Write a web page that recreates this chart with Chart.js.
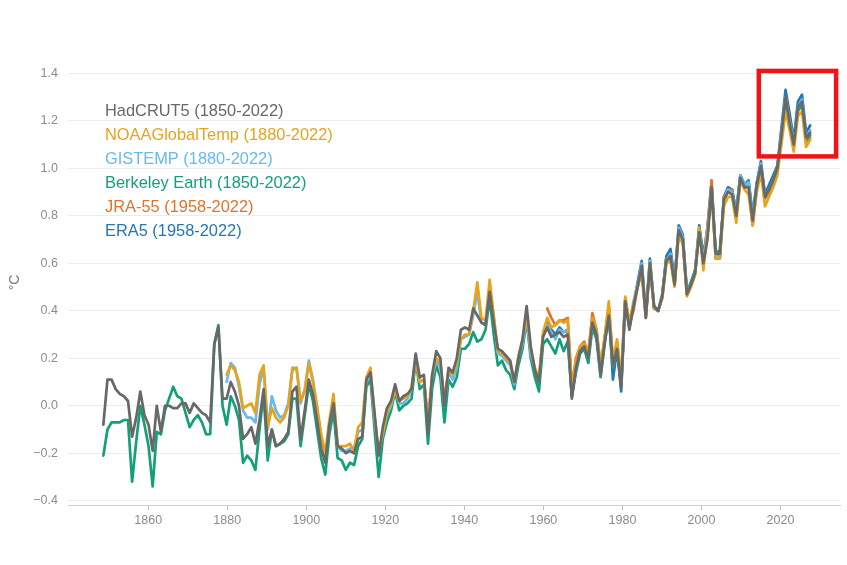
<!DOCTYPE html>
<html>
<head>
<meta charset="utf-8">
<script src="https://cdn.jsdelivr.net/npm/chart.js@4.4.0/dist/chart.umd.min.js"></script>
<style>
    html, body { margin: 0; padding: 0; background: #fff; }
    #wrap { width: 847px; height: 565px; }
</style>
</head>
<body>
<div id="wrap"><canvas id="tempChart" width="847" height="565"></canvas></div>
<script>
// first year of each series
const hadcrutStart = 1850;
const berkeleyStart = 1850;
const noaaStart = 1880;
const gistempStart = 1880;
const jraStart = 1958;
const era5Start = 1958;

// annual anomalies (°C vs 1850-1900), one value per year
const hadcrut5 = [
    -0.08, 0.11, 0.11, 0.07, 0.05, 0.04, 0.02, -0.13, -0.05, 0.06,
    -0.04, -0.08, -0.19, 0.00, -0.11, 0.00, 0.00, -0.01, -0.01, 0.01,
    0.01, -0.03, 0.01, -0.01, -0.03, -0.04, -0.07, 0.26, 0.33, 0.03,
    0.03, 0.10, 0.06, 0.00, -0.14, -0.12, -0.09, -0.16, -0.06, 0.07,
    -0.17, -0.10, -0.17, -0.16, -0.14, -0.11, 0.06, 0.08, -0.14, -0.02,
    0.11, 0.05, -0.06, -0.18, -0.24, -0.08, 0.01, -0.17, -0.18, -0.20,
    -0.19, -0.20, -0.14, -0.13, 0.11, 0.14, -0.03, -0.21, -0.09, -0.01,
    0.02, 0.09, 0.02, 0.04, 0.05, 0.07, 0.22, 0.12, 0.13, -0.12,
    0.13, 0.23, 0.20, 0.00, 0.16, 0.14, 0.20, 0.32, 0.33, 0.32,
    0.41, 0.38, 0.35, 0.34, 0.48, 0.35, 0.24, 0.23, 0.21, 0.19,
    0.10, 0.20, 0.28, 0.42, 0.25, 0.15, 0.10, 0.29, 0.33, 0.29,
    0.30, 0.31, 0.29, 0.30, 0.03, 0.16, 0.23, 0.25, 0.20, 0.35,
    0.30, 0.13, 0.27, 0.38, 0.17, 0.24, 0.08, 0.44, 0.32, 0.42,
    0.50, 0.59, 0.37, 0.60, 0.42, 0.40, 0.46, 0.61, 0.63, 0.51,
    0.74, 0.70, 0.47, 0.51, 0.56, 0.73, 0.60, 0.70, 0.92, 0.64,
    0.64, 0.87, 0.90, 0.89, 0.80, 0.96, 0.92, 0.92, 0.78, 0.93,
    1.01, 0.88, 0.91, 0.95, 1.00, 1.14, 1.30, 1.19, 1.10, 1.26,
    1.28, 1.13, 1.15
];

const noaaGlobalTemp = [
    0.13, 0.17, 0.15, 0.10, -0.01, 0.00, 0.01, -0.03, 0.13, 0.17,
    -0.09, -0.01, -0.05, -0.07, -0.05, 0.00, 0.16, 0.16, 0.02, 0.06,
    0.18, 0.10, 0.00, -0.12, -0.20, -0.06, 0.05, -0.17, -0.17, -0.17,
    -0.16, -0.19, -0.09, -0.07, 0.12, 0.16, -0.05, -0.19, -0.12, -0.03,
    0.01, 0.06, 0.02, 0.03, 0.04, 0.08, 0.19, 0.10, 0.11, -0.06,
    0.13, 0.20, 0.18, 0.03, 0.15, 0.13, 0.18, 0.28, 0.30, 0.30,
    0.40, 0.52, 0.37, 0.36, 0.53, 0.38, 0.23, 0.22, 0.20, 0.18,
    0.10, 0.21, 0.28, 0.38, 0.24, 0.16, 0.12, 0.31, 0.37, 0.33,
    0.34, 0.36, 0.35, 0.36, 0.07, 0.19, 0.25, 0.26, 0.22, 0.37,
    0.32, 0.17, 0.29, 0.44, 0.19, 0.28, 0.12, 0.46, 0.35, 0.43,
    0.50, 0.57, 0.38, 0.60, 0.41, 0.40, 0.45, 0.60, 0.61, 0.50,
    0.72, 0.68, 0.46, 0.50, 0.55, 0.75, 0.57, 0.73, 0.90, 0.62,
    0.62, 0.84, 0.88, 0.88, 0.77, 0.95, 0.91, 0.89, 0.76, 0.90,
    0.98, 0.84, 0.88, 0.92, 0.97, 1.10, 1.24, 1.16, 1.07, 1.22,
    1.24, 1.09, 1.12
];

const gistemp = [
    0.10, 0.18, 0.16, 0.08, -0.02, -0.05, -0.05, -0.07, 0.09, 0.16,
    -0.10, 0.04, -0.02, -0.05, -0.04, 0.01, 0.15, 0.16, 0.01, 0.07,
    0.19, 0.11, -0.01, -0.13, -0.21, -0.08, 0.03, -0.17, -0.19, -0.19,
    -0.18, -0.18, -0.11, -0.10, 0.10, 0.14, -0.06, -0.20, -0.11, -0.04,
    0.00, 0.07, 0.01, 0.01, 0.03, 0.07, 0.20, 0.10, 0.11, -0.07,
    0.12, 0.19, 0.16, 0.01, 0.14, 0.11, 0.16, 0.28, 0.29, 0.30,
    0.38, 0.48, 0.35, 0.34, 0.50, 0.37, 0.22, 0.21, 0.19, 0.17,
    0.09, 0.20, 0.26, 0.37, 0.22, 0.15, 0.11, 0.30, 0.34, 0.31,
    0.28, 0.32, 0.31, 0.32, 0.05, 0.17, 0.24, 0.25, 0.20, 0.35,
    0.31, 0.15, 0.28, 0.41, 0.17, 0.26, 0.10, 0.45, 0.34, 0.44,
    0.51, 0.60, 0.38, 0.61, 0.42, 0.40, 0.46, 0.61, 0.64, 0.52,
    0.75, 0.71, 0.48, 0.51, 0.56, 0.74, 0.61, 0.74, 0.92, 0.63,
    0.62, 0.87, 0.91, 0.90, 0.81, 0.97, 0.93, 0.94, 0.79, 0.94,
    1.02, 0.88, 0.91, 0.95, 1.00, 1.15, 1.30, 1.20, 1.11, 1.26,
    1.29, 1.13, 1.16
];

const berkeleyEarth = [
    -0.21, -0.10, -0.07, -0.07, -0.07, -0.06, -0.06, -0.32, -0.15, 0.00,
    -0.08, -0.17, -0.34, -0.11, -0.12, -0.02, 0.03, 0.08, 0.04, 0.03,
    -0.03, -0.09, -0.06, -0.04, -0.07, -0.12, -0.12, 0.26, 0.34, 0.00,
    -0.08, 0.04, 0.00, -0.06, -0.24, -0.21, -0.23, -0.27, -0.10, 0.05,
    -0.23, -0.10, -0.17, -0.16, -0.15, -0.12, 0.03, 0.03, -0.17, -0.04,
    0.09, 0.02, -0.10, -0.22, -0.29, -0.12, -0.02, -0.22, -0.23, -0.27,
    -0.24, -0.25, -0.17, -0.14, 0.08, 0.11, -0.10, -0.30, -0.14, -0.07,
    -0.02, 0.06, -0.02, 0.00, 0.01, 0.03, 0.19, 0.07, 0.09, -0.16,
    0.07, 0.17, 0.12, -0.07, 0.11, 0.08, 0.12, 0.24, 0.24, 0.26,
    0.31, 0.27, 0.28, 0.32, 0.45, 0.30, 0.17, 0.19, 0.15, 0.13,
    0.07, 0.17, 0.24, 0.36, 0.20, 0.12, 0.06, 0.26, 0.28, 0.25,
    0.22, 0.28, 0.23, 0.27, 0.04, 0.14, 0.22, 0.24, 0.18, 0.33,
    0.28, 0.12, 0.26, 0.38, 0.16, 0.24, 0.09, 0.45, 0.33, 0.43,
    0.51, 0.58, 0.38, 0.60, 0.41, 0.40, 0.46, 0.62, 0.63, 0.51,
    0.74, 0.70, 0.47, 0.52, 0.57, 0.74, 0.62, 0.72, 0.92, 0.65,
    0.65, 0.87, 0.91, 0.90, 0.81, 0.97, 0.93, 0.95, 0.80, 0.93,
    1.01, 0.88, 0.91, 0.95, 1.00, 1.14, 1.29, 1.19, 1.10, 1.24,
    1.27, 1.12, 1.14
];

const jra55 = [
    0.41, 0.37,
    0.34, 0.36, 0.36, 0.37, 0.08, 0.20, 0.25, 0.27, 0.22, 0.39,
    0.32, 0.16, 0.29, 0.42, 0.18, 0.25, 0.09, 0.44, 0.35, 0.40,
    0.50, 0.56, 0.37, 0.59, 0.41, 0.40, 0.46, 0.62, 0.63, 0.51,
    0.73, 0.70, 0.47, 0.51, 0.57, 0.74, 0.60, 0.75, 0.95, 0.64,
    0.63, 0.88, 0.91, 0.91, 0.80, 0.95, 0.92, 0.93, 0.76, 0.92,
    1.01, 0.87, 0.90, 0.95, 0.99, 1.14, 1.30, 1.19, 1.09, 1.25,
    1.27, 1.11, 1.13
];

const era5 = [
    0.35, 0.32,
    0.30, 0.33, 0.31, 0.32, 0.04, 0.17, 0.24, 0.26, 0.21, 0.36,
    0.30, 0.14, 0.28, 0.40, 0.11, 0.24, 0.06, 0.44, 0.33, 0.42,
    0.52, 0.61, 0.38, 0.62, 0.42, 0.40, 0.47, 0.63, 0.66, 0.53,
    0.76, 0.72, 0.48, 0.52, 0.57, 0.76, 0.63, 0.75, 0.94, 0.62,
    0.62, 0.88, 0.92, 0.91, 0.82, 0.97, 0.93, 0.94, 0.80, 0.94,
    1.03, 0.89, 0.93, 0.97, 1.01, 1.17, 1.33, 1.23, 1.12, 1.28,
    1.31, 1.15, 1.18
];

// tick labels
const xTickYears = [1860, 1880, 1900, 1920, 1940, 1960, 1980, 2000, 2020];
const yTickValues = [-0.4, -0.2, 0.0, 0.2, 0.4, 0.6, 0.8, 1.0, 1.2, 1.4];

// highlighted recent years (years / °C)
const highlightYears = [2009.5, 2028.3];
const highlightTemps = [1.05, 1.41];

const toPoints = (start, values) => values.map((v, i) => ({ x: start + i, y: v }));

const series = [
    { label: 'HadCRUT5 (1850-2022)', start: hadcrutStart, values: hadcrut5, color: '#686868' },
    { label: 'NOAAGlobalTemp (1880-2022)', start: noaaStart, values: noaaGlobalTemp, color: '#e8a31c' },
    { label: 'GISTEMP (1880-2022)', start: gistempStart, values: gistemp, color: '#68b9ee' },
    { label: 'Berkeley Earth (1850-2022)', start: berkeleyStart, values: berkeleyEarth, color: '#13a078' },
    { label: 'JRA-55 (1958-2022)', start: jraStart, values: jra55, color: '#e2732a' },
    { label: 'ERA5 (1958-2022)', start: era5Start, values: era5, color: '#1f78b8' }
];

/**
 * Legend drawn as coloured text in the upper left of the plot
 */
const textLegend = {
    id: 'textLegend',
    afterDraw(chart) {
        const { ctx, chartArea } = chart;
        ctx.save();
        ctx.font = '16.4px "Liberation Sans", Arial, sans-serif';
        ctx.textBaseline = 'middle';
        chart.data.datasets.forEach((ds, i) => {
            ctx.fillStyle = ds.borderColor;
            ctx.fillText(ds.label, chartArea.left + 37, 111 + i * 24.1);
        });
        ctx.restore();
    }
};

/**
 * Red frame around the latest years
 */
const highlightBox = {
    id: 'highlightBox',
    afterDatasetsDraw(chart) {
        const { ctx, scales } = chart;
        const x0 = scales.xd.getPixelForValue(highlightYears[0]);
        const x1 = scales.xd.getPixelForValue(highlightYears[1]);
        const y0 = scales.y.getPixelForValue(highlightTemps[1]);
        const y1 = scales.y.getPixelForValue(highlightTemps[0]);
        ctx.save();
        ctx.strokeStyle = '#f01418';
        ctx.lineWidth = 4.5;
        ctx.strokeRect(x0, y0, x1 - x0, y1 - y0);
        ctx.restore();
    }
};

const formatTemp = (v) => {
    const s = Math.abs(v).toFixed(1);
    return v < -0.001 ? '\u2212' + s : s;
};

const tickFont = { family: '"Liberation Sans", Arial, sans-serif', size: 12.5 };

new Chart(document.getElementById('tempChart'), {
    type: 'line',
    data: {
        datasets: series.map(s => ({
            label: s.label,
            data: toPoints(s.start, s.values),
            borderColor: s.color,
            backgroundColor: s.color,
            borderWidth: 2.7,
            borderJoinStyle: 'round',
            borderCapStyle: 'round',
            pointRadius: 0,
            tension: 0,
            fill: false,
            xAxisID: 'xd',
            yAxisID: 'y'
        }))
    },
    options: {
        responsive: false,
        animation: false,
        layout: { padding: { left: 0, right: 7, top: 60, bottom: 20 } },
        plugins: { legend: { display: false }, tooltip: { enabled: false } },
        scales: {
            x: {
                type: 'linear',
                position: 'bottom',
                min: 1839.7,
                max: 2035.05,
                afterBuildTicks: (scale) => { scale.ticks = xTickYears.map(v => ({ value: v })); },
                afterFit: (scale) => { scale.height = 40; },
                ticks: { callback: (v) => String(v), color: '#8c8c8c', font: tickFont, padding: 3, maxRotation: 0 },
                grid: { drawOnChartArea: false, tickLength: 5, color: '#bdbdbd' },
                border: { color: '#cfcfcf', width: 1 }
            },
            xd: {
                type: 'linear',
                axis: 'x',
                position: 'bottom',
                display: false,
                min: 1841.4,
                max: 2029.25
            },
            y: {
                type: 'linear',
                min: -0.418,
                max: 1.456,
                afterBuildTicks: (scale) => { scale.ticks = yTickValues.map(v => ({ value: v })); },
                afterFit: (scale) => { scale.width = 68; },
                ticks: { callback: formatTemp, color: '#8c8c8c', font: tickFont, padding: 10 },
                grid: { color: '#ececec', drawTicks: false },
                border: { display: false },
                title: {
                    display: true,
                    text: '°C',
                    color: '#777',
                    font: { family: '"Liberation Sans", Arial, sans-serif', size: 14 },
                    padding: { top: 7, bottom: 0 }
                }
            }
        }
    },
    plugins: [highlightBox, textLegend]
});
</script>
</body>
</html>
